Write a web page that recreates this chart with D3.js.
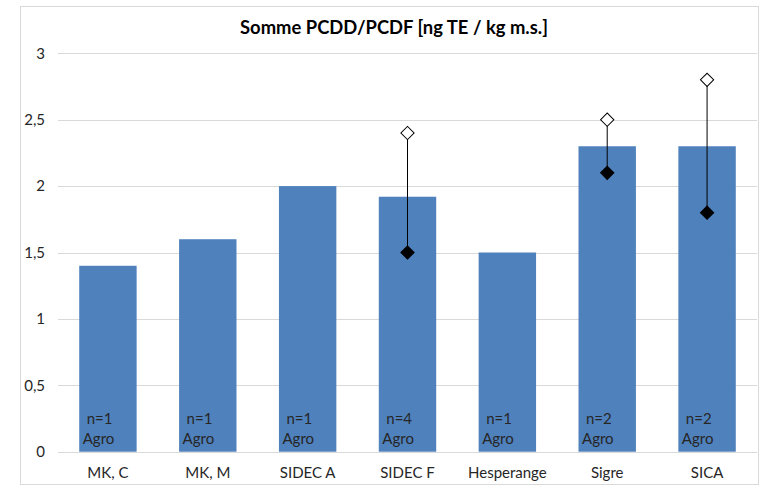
<!DOCTYPE html>
<html><head><meta charset="utf-8">
<script src="https://cdn.jsdelivr.net/npm/d3@7"></script>
<style>body{margin:0;background:#fff;} svg{display:block;}</style>
</head><body>
<svg id="chart" width="769" height="485"></svg>
<script>
const categories = ["MK, C", "MK, M", "SIDEC A", "SIDEC F", "Hesperange", "Sigre", "SICA"];
const barValues = [1.4, 1.6, 2.0, 1.92, 1.5, 2.3, 2.3];
const nLabels = ["n=1", "n=1", "n=1", "n=4", "n=1", "n=2", "n=2"];
const typeLabels = ["Agro", "Agro", "Agro", "Agro", "Agro", "Agro", "Agro"];
const maxValues = [null, null, null, 2.4, null, 2.5, 2.8];
const minValues = [null, null, null, 1.5, null, 2.1, 1.8];
const yTicks = [0, 0.5, 1, 1.5, 2, 2.5, 3];
const yTickLabels = ["0", "0,5", "1", "1,5", "2", "2,5", "3"];
const title = "Somme PCDD/PCDF [ng TE / kg m.s.]";

const font = "Lato, 'Open Sans', sans-serif";
const svg = d3.select("#chart");
svg.append("rect").attr("x", 20.5).attr("y", 6.5).attr("width", 738).attr("height", 478)
  .attr("fill", "#fff").attr("stroke", "#d9d9d9");

const x = d3.scaleBand().domain(categories).range([58, 757]).paddingInner(0.425).paddingOuter(0.2125);
const y = d3.scaleLinear().domain([0, 3]).range([451.7, 53.3]);

svg.append("text").attr("x", 394).attr("y", 34).attr("text-anchor", "middle")
  .attr("font-family", font).attr("font-weight", "bold").attr("font-size", 18.4).attr("fill", "#000").text(title);

// grid
svg.append("g").selectAll("line").data(yTicks.slice(1)).join("line")
  .attr("x1", 58).attr("x2", 757).attr("y1", d => Math.round(y(d)) + 0.5).attr("y2", d => Math.round(y(d)) + 0.5)
  .attr("stroke", "#d9d9d9").attr("stroke-width", 1);

const yAxis = d3.axisLeft(y).tickValues(yTicks).tickFormat((d, i) => yTickLabels[i]).tickSize(0).tickPadding(0);
const ga = svg.append("g").attr("transform", "translate(45,0)").call(yAxis);
ga.select(".domain").remove();
ga.selectAll("text").attr("font-family", font).attr("font-size", 15).attr("fill", "#262626");

// bars
svg.append("g").selectAll("rect").data(categories).join("rect")
  .attr("x", d => x(d)).attr("width", x.bandwidth())
  .attr("y", (d, i) => y(barValues[i])).attr("height", (d, i) => y(0) - y(barValues[i]))
  .attr("fill", "#4f81bd");

// baseline
svg.append("line").attr("x1", 58).attr("x2", 757).attr("y1", 452.5).attr("y2", 452.5).attr("stroke", "#d9d9d9");

// x axis
const xAxis = d3.axisBottom(x).tickSize(0).tickPadding(0);
const gx = svg.append("g").attr("transform", "translate(0,0)").call(xAxis);
gx.select(".domain").remove();
gx.selectAll("text").attr("font-family", font).attr("font-size", 15).attr("fill", "#262626").attr("y", 478).attr("dy", null);

// in-bar labels
const lab = svg.append("g").attr("font-family", font).attr("font-size", 15).attr("fill", "#262626");
lab.selectAll("text.n").data(categories).join("text").attr("class", "n")
  .attr("x", d => x(d) + 7.5).attr("y", 424).text((d, i) => nLabels[i]);
lab.selectAll("text.t").data(categories).join("text").attr("class", "t")
  .attr("x", d => x(d) + 3.5).attr("y", 444).text((d, i) => typeLabels[i]);

// min-max lines and markers
const idx = categories.map((c, i) => i).filter(i => maxValues[i] !== null);
const g = svg.append("g");
g.selectAll("line").data(idx).join("line")
  .attr("x1", i => x(categories[i]) + x.bandwidth() / 2).attr("x2", i => x(categories[i]) + x.bandwidth() / 2)
  .attr("y1", i => y(maxValues[i])).attr("y2", i => y(minValues[i]))
  .attr("stroke", "#000").attr("stroke-width", 1);
const diamond = d3.symbol().type(d3.symbolSquare).size(88);
g.selectAll("path.max").data(idx).join("path").attr("class", "max")
  .attr("d", diamond())
  .attr("transform", i => `translate(${x(categories[i]) + x.bandwidth() / 2},${y(maxValues[i])}) rotate(45)`)
  .attr("fill", "#fff").attr("stroke", "#000").attr("stroke-width", 1);
g.selectAll("path.min").data(idx).join("path").attr("class", "min")
  .attr("d", diamond())
  .attr("transform", i => `translate(${x(categories[i]) + x.bandwidth() / 2},${y(minValues[i])}) rotate(45)`)
  .attr("fill", "#000").attr("stroke", "#000").attr("stroke-width", 1);
</script>
</body></html>
